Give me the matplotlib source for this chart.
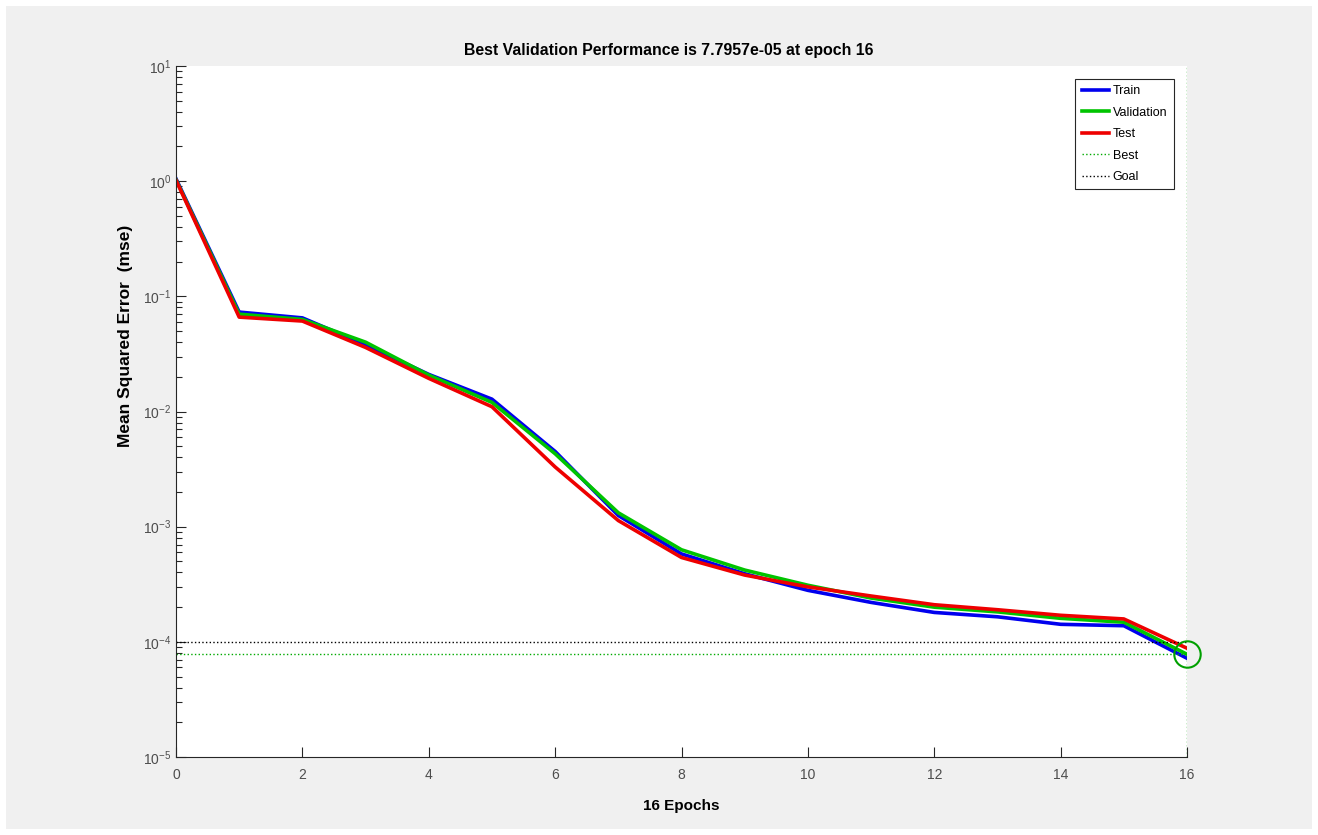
import numpy as np
import matplotlib
matplotlib.use("Agg")
import matplotlib.pyplot as plt
from matplotlib.patches import Rectangle
from matplotlib.ticker import NullFormatter

plt.rcParams['font.family'] = ['Liberation Sans', 'DejaVu Sans']

# данные обучения (mse по эпохам)
epochs = list(range(17))
train = [1.05, 0.073, 0.065, 0.038, 0.021, 0.0128, 0.0045, 0.00125, 0.00058, 0.00039,
         0.00028, 0.00022, 0.00018, 0.000165, 0.000142, 0.000138, 0.000072]
validation = [1.03, 0.070, 0.063, 0.040, 0.0207, 0.0120, 0.0043, 0.00132, 0.00063, 0.00042,
              0.00031, 0.00024, 0.00020, 0.000182, 0.00016, 0.000148, 0.000077957]
test = [1.02, 0.066, 0.061, 0.036, 0.0194, 0.0110, 0.0033, 0.00113, 0.00054, 0.00038,
        0.00030, 0.00025, 0.00021, 0.000190, 0.000170, 0.000158, 0.000088]
best_epoch = 16
best_value = 7.7957e-05
goal = 1e-4
xticks = list(range(0, 17, 2))
yticks = [1e-5, 1e-4, 1e-3, 1e-2, 1e-1, 1e0, 1e1]

W, H = 1318, 835
fig = plt.figure(figsize=(W / 100, H / 100), dpi=100, facecolor='white')
# серый фон окна с тонкой белой рамкой
fig.patches.append(Rectangle((6 / W, 6 / H), 1 - 12 / W, 1 - 12 / H,
                             transform=fig.transFigure, facecolor='#f0f0f0',
                             edgecolor='none', zorder=-10))

ax = fig.add_axes([176 / W, (H - 757) / H, (1187 - 176) / W, (757 - 66) / H])
ax.set_facecolor('white')

ax.plot(epochs, train, color='#0000ee', lw=2.6, label='Train')
ax.plot(epochs, validation, color='#00c400', lw=2.6, label='Validation')
ax.plot(epochs, test, color='#ee0000', lw=2.6, label='Test')

ax.axhline(best_value, color='#00aa00', ls=':', lw=1, label='Best')
ax.axvline(best_epoch, color='#00aa00', ls=':', lw=1)
ax.axhline(goal, color='black', ls=':', lw=1, label='Goal')
ax.plot([best_epoch], [best_value], 'o', mfc='none', mec='#00a000', ms=19, mew=1.5,
        clip_on=False)

ax.set_yscale('log')
ax.set_yticks(yticks)
ax.set_ylim(1e-5, 10)
ax.set_xlim(0, 16)
ax.set_xticks(xticks)
ax.yaxis.set_minor_formatter(NullFormatter())

for s in ['top', 'right']:
    ax.spines[s].set_visible(False)
for s in ['left', 'bottom']:
    ax.spines[s].set_color('#262626')
    ax.spines[s].set_linewidth(0.8)

ax.tick_params(which='major', direction='in', length=7, width=0.8, colors='#262626',
               labelcolor='#4d4d4d', labelsize=10)
ax.tick_params(which='minor', direction='in', length=4, width=0.8, colors='#262626')
ax.tick_params(axis='x', which='major', pad=8)

ax.set_title('Best Validation Performance is 7.7957e-05 at epoch 16',
             fontsize=11.4, fontweight='bold', pad=8, x=0.487)
ax.set_xlabel('16 Epochs', fontsize=11, fontweight='bold', labelpad=12)
ax.set_ylabel('Mean Squared Error  (mse)', fontsize=12.5, fontweight='bold')
ax.yaxis.set_label_coords(-0.043, 0.61)

leg = ax.legend(loc='upper right', bbox_to_anchor=(0.993, 0.99), fontsize=9,
                frameon=True, fancybox=False, framealpha=1, edgecolor='#262626',
                handlelength=2.2, borderpad=0.5, labelspacing=0.75, handletextpad=0.3)
leg.get_frame().set_linewidth(0.8)

plt.savefig('out.png', dpi=100, facecolor=fig.get_facecolor())
plt.close()
